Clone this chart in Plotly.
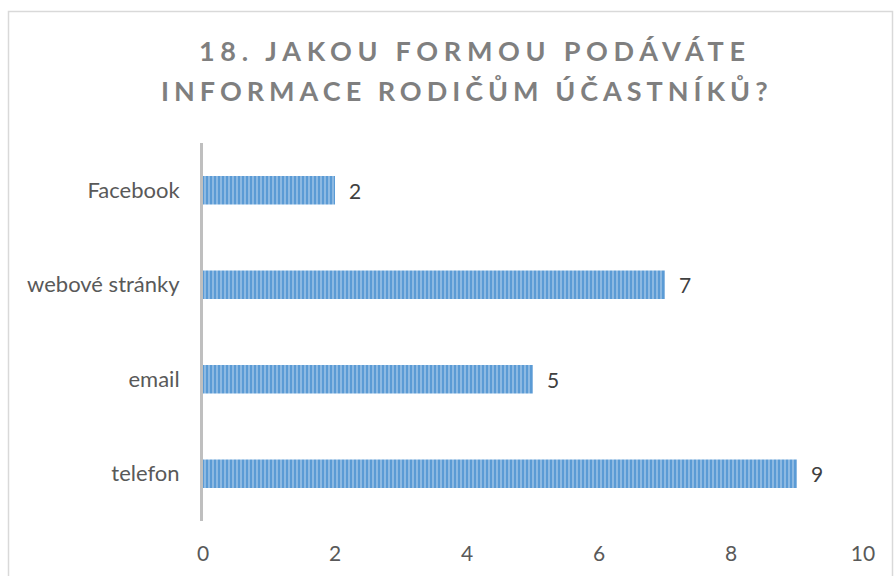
import plotly.graph_objects as go

categories = ["telefon", "email", "webové stránky", "Facebook"]
values = [9, 5, 7, 2]
x_ticks = [0, 2, 4, 6, 8, 10]
title_lines = ["18. JAKOU FORMOU PODÁVÁTE", "INFORMACE RODIČŮM ÚČASTNÍKŮ?"]

FONT = "Lato"
W, H = 894, 576
# plot area in page pixels
PX0, PX1, PY0, PY1 = 203, 863, 143, 521
L, R, T, B = PX0, W - PX1, PY0, H - PY1


def px_x(p):
    return (p - PX0) / (PX1 - PX0)


def px_y(p):
    return (PY1 - p) / (PY1 - PY0)


fig = go.Figure()
fig.add_trace(go.Bar(
    y=categories, x=values, orientation="h",
    marker=dict(
        color="#5B9BD5",
        line=dict(width=0),
        pattern=dict(shape="|", fgcolor="#D6E6F5", size=4, solidity=0.4, fillmode="overlay"),
    ),
    hoverinfo="skip",
))

annotations = []
for c, v in zip(categories, values):
    annotations.append(dict(
        x=v, y=c, xref="x", yref="y", text=str(v), showarrow=False,
        xanchor="left", xshift=12, font=dict(family=FONT, size=21, color="#404040"),
    ))

for line, (cx, cy, sp) in zip(title_lines, [(475, 51, 5.7), (467, 91, 5.0)]):
    annotations.append(dict(
        x=px_x(cx), y=px_y(cy), xref="paper", yref="paper",
        text='<b><span style="letter-spacing:%.1fpx">%s</span></b>' % (sp, line),
        showarrow=False, xanchor="center", yanchor="middle",
        font=dict(family=FONT, size=27, color="#7F7F7F"),
    ))

fig.update_layout(
    width=W, height=H, autosize=False,
    margin=dict(l=L, r=R, t=T, b=B, pad=0),
    paper_bgcolor="white", plot_bgcolor="white",
    showlegend=False, bargap=0.7,
    annotations=annotations,
    shapes=[dict(
        type="rect", xref="paper", yref="paper",
        x0=px_x(8.5), x1=px_x(892.5), y0=px_y(11.5), y1=px_y(585),
        line=dict(color="#D9D9D9", width=1.5), fillcolor="rgba(0,0,0,0)", layer="below",
    )],
    xaxis=dict(
        range=[0, 10], tickvals=x_ticks, showgrid=False, zeroline=False,
        showline=False, ticks="", ticklabelstandoff=18,
        tickfont=dict(family=FONT, size=21, color="#595959"),
    ),
    yaxis=dict(
        categoryorder="array", categoryarray=categories,
        showgrid=False, zeroline=False, showline=True, linecolor="#BFBFBF", linewidth=3,
        ticks="", ticklabelstandoff=16,
        tickfont=dict(family=FONT, size=22, color="#595959"),
    ),
)

fig.write_html(
    "out.html",
    config={"displayModeBar": False, "staticPlot": True},
    post_script="document.body.style.margin='0';document.body.style.overflow='hidden';",
)
